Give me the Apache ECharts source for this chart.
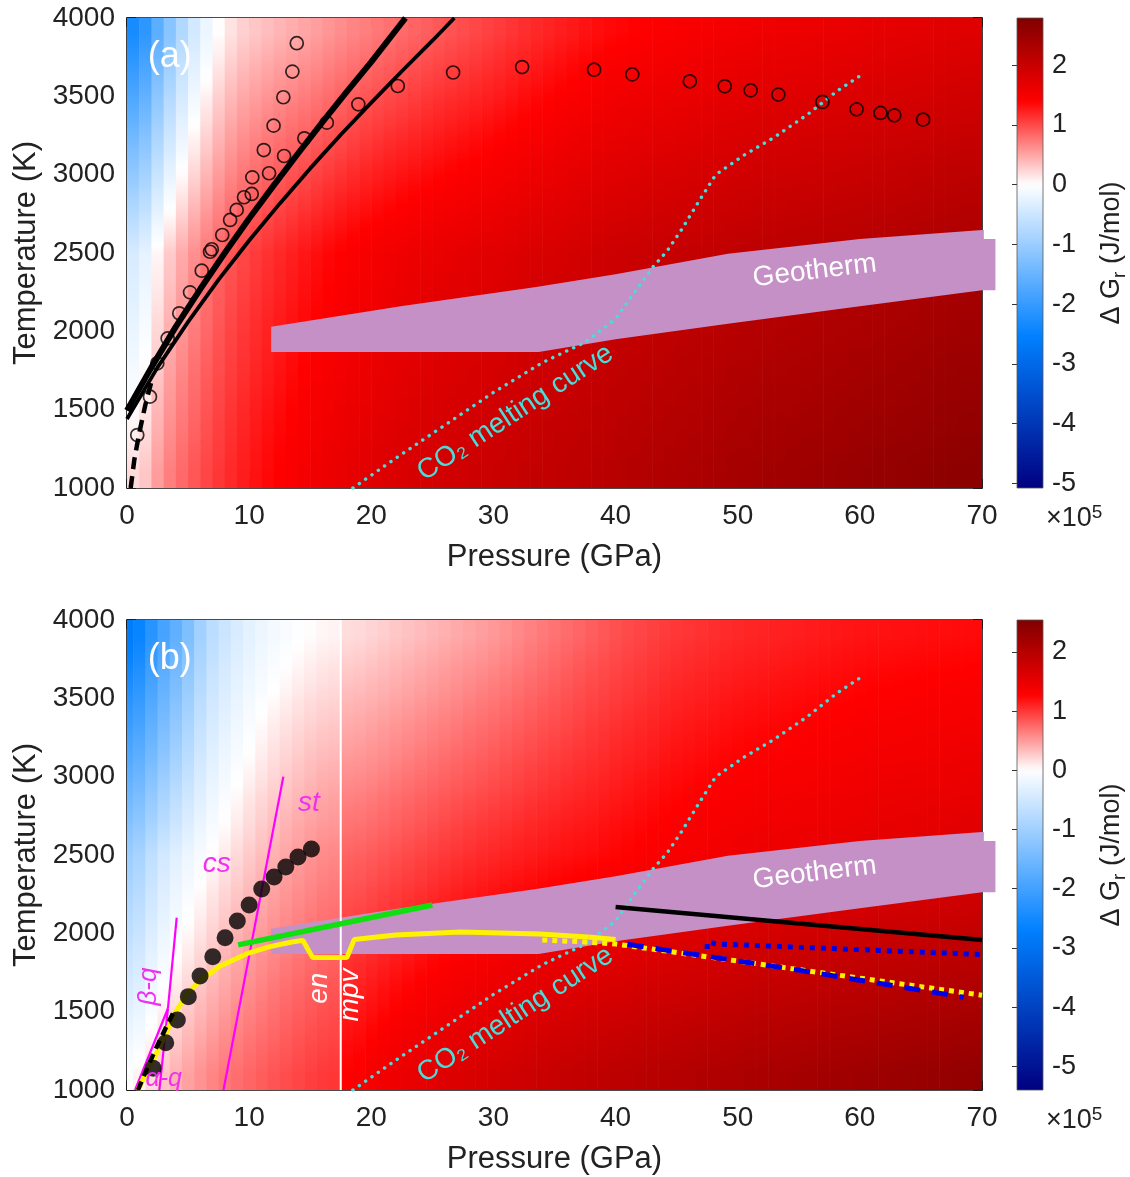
<!DOCTYPE html>
<html>
<head>
<meta charset="utf-8">
<script src="https://cdn.jsdelivr.net/npm/echarts@6/dist/echarts.min.js"></script>
<style>
html,body{margin:0;padding:0;background:#fff;}
#chart{width:1130px;height:1177px;}
</style>
</head>
<body>
<div id="chart"></div>
<script>
// ---------------- Reaction Gibbs energy fields, ΔGr (×10^5 J/mol) ----------------
// Rows run from low to high temperature (sample rows every 200 K).
const tCenters = [1100,1300,1500,1700,1900,2100,2300,2500,2700,2900,3100,3300,3500,3700,3900];

// panel (a): samples every 2 GPa
const pCentersA = [1,3,5,7,9,11,13,15,17,19,21,23,25,27,29,31,33,35,37,39,41,43,45,47,49,51,53,55,57,59,61,63,65,67,69];
const dGA = [
  [0.20,0.65,0.88,1.06,1.21,1.33,1.43,1.53,1.61,1.69,1.76,1.82,1.88,1.92,1.96,2.00,2.04,2.08,2.12,2.16,2.20,2.24,2.28,2.32,2.36,2.39,2.42,2.45,2.48,2.51,2.54,2.57,2.60,2.63,2.66],
  [0.10,0.58,0.83,1.02,1.18,1.30,1.40,1.50,1.58,1.66,1.73,1.79,1.84,1.88,1.92,1.96,2.01,2.05,2.09,2.13,2.17,2.21,2.24,2.28,2.32,2.35,2.38,2.41,2.43,2.46,2.49,2.52,2.55,2.58,2.61],
  [0.02,0.52,0.78,0.99,1.15,1.27,1.37,1.47,1.55,1.63,1.69,1.75,1.81,1.85,1.89,1.93,1.97,2.01,2.05,2.10,2.13,2.17,2.21,2.24,2.28,2.31,2.34,2.36,2.39,2.42,2.44,2.47,2.50,2.53,2.56],
  [-0.08,0.46,0.74,0.95,1.11,1.23,1.33,1.43,1.51,1.59,1.66,1.71,1.77,1.81,1.85,1.89,1.93,1.98,2.02,2.06,2.10,2.13,2.17,2.20,2.24,2.27,2.30,2.32,2.35,2.37,2.40,2.43,2.46,2.49,2.51],
  [-0.17,0.39,0.69,0.91,1.08,1.20,1.30,1.40,1.48,1.56,1.62,1.68,1.73,1.77,1.81,1.85,1.90,1.94,1.98,2.03,2.06,2.10,2.13,2.17,2.20,2.23,2.25,2.28,2.30,2.33,2.35,2.38,2.41,2.44,2.46],
  [-0.25,0.33,0.64,0.87,1.05,1.17,1.27,1.37,1.45,1.53,1.59,1.64,1.69,1.73,1.77,1.81,1.86,1.91,1.95,2.00,2.03,2.06,2.09,2.13,2.16,2.19,2.21,2.24,2.26,2.28,2.30,2.33,2.36,2.39,2.42],
  [-0.33,0.26,0.60,0.84,1.01,1.13,1.23,1.33,1.41,1.49,1.55,1.61,1.66,1.70,1.74,1.78,1.83,1.87,1.91,1.96,1.99,2.03,2.06,2.09,2.12,2.15,2.17,2.19,2.21,2.24,2.26,2.29,2.32,2.35,2.37],
  [-0.40,0.20,0.55,0.80,0.98,1.10,1.20,1.30,1.38,1.46,1.52,1.57,1.62,1.66,1.70,1.74,1.79,1.84,1.88,1.93,1.96,1.99,2.02,2.05,2.08,2.11,2.13,2.15,2.17,2.19,2.21,2.24,2.27,2.30,2.32],
  [-0.67,-0.03,0.39,0.68,0.87,0.99,1.09,1.19,1.27,1.35,1.41,1.46,1.52,1.56,1.60,1.65,1.70,1.75,1.79,1.85,1.88,1.91,1.94,1.97,2.00,2.03,2.05,2.07,2.09,2.11,2.13,2.16,2.19,2.22,2.24],
  [-0.95,-0.25,0.23,0.55,0.77,0.88,0.98,1.07,1.16,1.24,1.30,1.36,1.41,1.46,1.51,1.55,1.61,1.66,1.71,1.76,1.79,1.83,1.86,1.89,1.92,1.95,1.97,1.99,2.01,2.03,2.05,2.08,2.11,2.14,2.16],
  [-1.22,-0.48,0.07,0.43,0.66,0.78,0.87,0.96,1.04,1.13,1.20,1.25,1.31,1.36,1.41,1.46,1.52,1.58,1.62,1.68,1.71,1.75,1.78,1.81,1.84,1.87,1.89,1.91,1.93,1.95,1.97,2.00,2.03,2.06,2.08],
  [-1.49,-0.71,-0.09,0.31,0.55,0.67,0.76,0.85,0.93,1.02,1.09,1.15,1.21,1.26,1.31,1.37,1.43,1.49,1.54,1.59,1.63,1.66,1.69,1.73,1.76,1.79,1.81,1.83,1.85,1.87,1.89,1.92,1.94,1.97,1.99],
  [-1.77,-0.93,-0.25,0.19,0.45,0.56,0.65,0.73,0.82,0.91,0.98,1.04,1.11,1.16,1.21,1.27,1.34,1.40,1.45,1.51,1.55,1.58,1.61,1.65,1.68,1.71,1.73,1.75,1.77,1.79,1.81,1.84,1.86,1.89,1.91],
  [-2.04,-1.16,-0.41,0.06,0.34,0.45,0.54,0.62,0.71,0.80,0.87,0.94,1.00,1.06,1.12,1.18,1.25,1.31,1.37,1.43,1.46,1.50,1.53,1.57,1.60,1.63,1.65,1.67,1.69,1.71,1.73,1.76,1.78,1.81,1.83],
  [-2.31,-1.39,-0.57,-0.06,0.23,0.34,0.43,0.51,0.60,0.69,0.76,0.83,0.90,0.96,1.02,1.09,1.16,1.22,1.28,1.34,1.38,1.42,1.45,1.49,1.52,1.55,1.57,1.59,1.61,1.63,1.65,1.68,1.70,1.73,1.75]
];

// panel (b): samples every 2 GPa, either side of the en / mpv boundary at 17.5 GPa
const pCentersB = [0.5,2.5,4.5,6.5,8.5,10.5,12.5,14.5,16.5,18.5,20.5,22.5,24.5,26.5,28.5,30.5,32.5,34.5,36.5,38.5,40.5,42.5,44.5,46.5,48.5,50.5,52.5,54.5,56.5,58.5,60.5,62.5,64.5,66.5,68.5,70.5];
const enMpvBoundary = 17.5;
const dGB = [
  [0.00,0.24,0.43,0.58,0.70,0.79,0.87,0.94,1.00,1.28,1.38,1.46,1.54,1.61,1.67,1.72,1.77,1.82,1.87,1.91,1.95,1.98,2.01,2.04,2.07,2.10,2.13,2.16,2.19,2.22,2.24,2.27,2.30,2.32,2.35,2.37],
  [-0.15,0.13,0.33,0.49,0.62,0.72,0.80,0.88,0.94,1.21,1.30,1.38,1.45,1.52,1.58,1.63,1.68,1.73,1.78,1.81,1.85,1.88,1.92,1.95,1.98,2.01,2.03,2.06,2.09,2.12,2.14,2.17,2.19,2.21,2.24,2.26],
  [-0.30,0.02,0.24,0.40,0.54,0.65,0.74,0.82,0.89,1.14,1.22,1.30,1.37,1.43,1.49,1.54,1.59,1.64,1.68,1.72,1.75,1.79,1.82,1.85,1.88,1.91,1.94,1.96,1.99,2.02,2.04,2.06,2.09,2.11,2.13,2.15],
  [-0.45,-0.10,0.14,0.32,0.46,0.58,0.68,0.76,0.83,1.07,1.15,1.22,1.29,1.35,1.40,1.45,1.50,1.54,1.58,1.62,1.65,1.69,1.72,1.75,1.78,1.81,1.84,1.86,1.89,1.92,1.94,1.96,1.98,2.00,2.03,2.04],
  [-0.60,-0.21,0.04,0.23,0.39,0.51,0.61,0.70,0.77,1.00,1.07,1.13,1.20,1.26,1.31,1.36,1.41,1.45,1.49,1.52,1.56,1.59,1.63,1.66,1.69,1.72,1.74,1.77,1.79,1.81,1.83,1.86,1.88,1.90,1.92,1.93],
  [-0.75,-0.32,-0.06,0.14,0.31,0.44,0.55,0.64,0.72,0.92,0.99,1.05,1.12,1.17,1.23,1.27,1.31,1.36,1.39,1.42,1.46,1.49,1.53,1.56,1.59,1.62,1.64,1.67,1.69,1.71,1.73,1.76,1.77,1.79,1.81,1.83],
  [-0.90,-0.44,-0.15,0.06,0.23,0.37,0.48,0.58,0.66,0.85,0.91,0.97,1.03,1.09,1.14,1.18,1.22,1.26,1.30,1.33,1.36,1.40,1.44,1.47,1.50,1.53,1.55,1.57,1.59,1.61,1.63,1.65,1.67,1.69,1.71,1.72],
  [-1.05,-0.55,-0.25,-0.03,0.15,0.30,0.42,0.52,0.60,0.78,0.83,0.89,0.95,1.00,1.05,1.09,1.13,1.17,1.20,1.23,1.26,1.30,1.34,1.37,1.40,1.43,1.45,1.47,1.49,1.51,1.53,1.55,1.56,1.58,1.60,1.61],
  [-1.30,-0.82,-0.45,-0.14,0.06,0.22,0.35,0.45,0.52,0.69,0.74,0.80,0.86,0.92,0.97,1.01,1.06,1.10,1.14,1.17,1.21,1.25,1.29,1.32,1.35,1.38,1.40,1.42,1.44,1.46,1.48,1.50,1.51,1.53,1.55,1.56],
  [-1.55,-1.05,-0.63,-0.25,-0.02,0.15,0.27,0.37,0.45,0.61,0.66,0.72,0.78,0.83,0.88,0.93,0.98,1.03,1.07,1.11,1.15,1.20,1.24,1.27,1.30,1.33,1.35,1.37,1.39,1.41,1.43,1.45,1.46,1.47,1.49,1.50],
  [-1.80,-1.30,-0.82,-0.36,-0.11,0.07,0.20,0.30,0.37,0.52,0.57,0.63,0.69,0.75,0.80,0.85,0.91,0.96,1.01,1.05,1.10,1.14,1.19,1.22,1.25,1.28,1.30,1.32,1.34,1.36,1.38,1.39,1.40,1.42,1.44,1.45],
  [-2.05,-1.50,-1.00,-0.47,-0.20,0.00,0.13,0.22,0.29,0.43,0.49,0.55,0.61,0.66,0.72,0.77,0.83,0.89,0.94,1.00,1.05,1.09,1.14,1.17,1.20,1.23,1.25,1.27,1.29,1.31,1.33,1.34,1.35,1.37,1.38,1.39],
  [-2.30,-1.70,-1.18,-0.58,-0.28,-0.08,0.05,0.15,0.21,0.35,0.40,0.46,0.52,0.58,0.64,0.69,0.76,0.82,0.88,0.94,0.99,1.04,1.09,1.12,1.15,1.18,1.20,1.22,1.24,1.26,1.28,1.29,1.30,1.31,1.33,1.34],
  [-2.55,-1.90,-1.36,-0.69,-0.37,-0.16,-0.02,0.07,0.14,0.26,0.32,0.38,0.44,0.50,0.55,0.61,0.68,0.75,0.82,0.88,0.94,0.99,1.04,1.07,1.10,1.13,1.15,1.17,1.19,1.21,1.23,1.24,1.25,1.26,1.27,1.28],
  [-2.80,-2.10,-1.55,-0.80,-0.46,-0.23,-0.09,0.00,0.06,0.17,0.23,0.29,0.35,0.41,0.47,0.53,0.61,0.68,0.75,0.82,0.89,0.94,0.99,1.02,1.05,1.08,1.10,1.12,1.14,1.16,1.18,1.19,1.20,1.21,1.22,1.23]
];

// colour limits of the two colour bars and their tick values
const climA = [-5.08, 2.79];
const climB = [-5.40, 2.54];
const cbarTicks = [-5,-4,-3,-2,-1,0,1,2];

// ---------------- panel (a) curves and points ----------------
const aLineThickP = [0,2,4,6,8,10,12,14,16,18,20,22.8];
const aLineThickT = [1495,1770,2030,2270,2500,2720,2930,3135,3335,3530,3720,4000];
const aLineThinP  = [0,2.5,5,7.5,10,12.5,15,17.5,20,22.5,25,26.8];
const aLineThinT  = [1440,1770,2060,2330,2580,2815,3040,3255,3460,3660,3855,4000];
const aDashP = [0.3,0.6,1.0,1.5,2.1];
const aDashT = [1000,1180,1350,1530,1710];
const aCircP = [0.84,1.88,2.48,3.33,4.28,5.16,6.12,6.8,6.94,7.8,8.44,8.98,9.58,10.21,10.26,11.63,11.2,12.0,12.86,12.8,13.54,13.9,14.52,16.36,18.94,22.17,26.7,32.35,38.24,41.37,46.08,48.94,51.06,53.33,56.94,59.73,61.69,62.82,65.18];
const aCircT = [1338,1583,1796,1955,2115,2249,2387,2508,2524,2615,2711,2775,2856,2877,2983,3009,3157,3313,3119,3494,3658,3839,3232,3332,3449,3566,3652,3687,3670,3640,3596,3564,3538,3511,3464,3417,3394,3379,3351];

// ---------------- shared: CO2 melting curve and geotherm ----------------
const co2P = [18.5,22,26,30,34,37.5,40,41.5,43.1,44.2,45.4,46.9,48.2,50.5,52.9,55.7,58.1,60];
const co2T = [1000,1190,1400,1610,1800,1930,2080,2245,2415,2511,2649,2840,3000,3124,3234,3383,3532,3630];
const geoP = [11.8,22.4,33.5,40,49.2,60,70,70.15,70.15,71.1,71.1,70,60,49.2,40,33.7,11.8];
const geoT = [2030,2160,2283,2365,2496,2590,2647,2647,2590,2590,2262,2262,2160,2049,1950,1868,1868];

// ---------------- panel (b) curves and points ----------------
const bDotP = [2.14,3.17,4.12,5.02,5.98,7.02,8.03,9.03,10.0,11.03,12.04,13.0,14.0,15.1];
const bDotT = [1139,1302,1447,1596,1728,1851,1972,2079,2181,2283,2360,2423,2487,2538];
const bYellowP = [0.9,1.5,2.2,3.0,4.0,5.0,6.0,7.6,9.8,11.7,13.5,14.4,15.2,18.0,18.6,22,27.3,33.8,38,40];
const bYellowT = [1000,1100,1200,1330,1500,1620,1700,1790,1870,1915,1945,1955,1845,1845,1960,1990,2008,1995,1975,1960];
const bYellowDotP = [34,37,40,50,60,70];
const bYellowDotT = [1957,1947,1932,1823,1714,1605];
const bBlueDashP = [41,55,68.5];
const bBlueDashT = [1930,1765,1592];
const bBlueDotP = [47.5,47.5,48.3,70];
const bBlueDotT = [1900,1945,1932,1865];
const bBlackP = [40,70];
const bBlackT = [2168,1957];
const bGreenP = [9.1,25];
const bGreenT = [1926,2181];
const bDashP = [0.9,1.6,2.4,3.2,3.9];
const bDashT = [1000,1130,1270,1400,1510];
const bMpvP = [17.5,17.5];
const bMpvT = [1000,4000];
const qAlphaBetaP = [0.66,3.35];
const qAlphaBetaT = [1000,1520];
const qAlphaCsP = [2.65,3.35];
const qAlphaCsT = [1000,1520];
const qBetaCsP = [3.35,4.07];
const qBetaCsT = [1520,2100];
const csStP = [7.9,12.8];
const csStT = [1000,3000];

// ---------------- drawing ----------------
const FONT = '"Liberation Sans", Arial, Helvetica, sans-serif';
const TXT = '#222';
const chart = echarts.init(document.getElementById('chart'));

// diverging blue-white-red map with white at zero
function cmap(v, lim) {
  const mix = (a, b, t) => a.map((x, i) => Math.round(x + (b[i] - x) * t));
  let c;
  if (v >= 0) {
    const t = Math.min(v / lim[1], 1);
    c = t < 0.5 ? mix([255,255,255],[255,0,0],t/0.5) : mix([255,0,0],[128,0,0],(t-0.5)/0.5);
  } else {
    const t = Math.min(v / lim[0], 1);
    c = t < 0.5 ? mix([255,255,255],[0,128,255],t/0.5) : mix([0,128,255],[0,0,128],(t-0.5)/0.5);
  }
  return 'rgb(' + c.join(',') + ')';
}
const zip = (P, T) => P.map((p, i) => [p, T[i]]);

// Shaded field: 1 GPa wide strips, each shaded vertically between sample rows.
// Items are [pLeft, pRight, tLow, tHigh, vLow, vHigh].
function shadeData(pc, rows, stripCenters, brk) {
  const last = pc.length - 1;
  const at = (j, P) => {
    const row = rows[j];
    if (P <= pc[0]) return row[0];
    if (P >= pc[last]) return row[last];
    let i = 0;
    while (i < last - 1 && pc[i + 1] < P) i++;
    const p0 = pc[i], p1 = pc[i + 1];
    if (brk !== null && p0 < brk && brk < p1) return P < brk ? row[i] : row[i + 1];
    return row[i] + (row[i + 1] - row[i]) * (P - p0) / (p1 - p0);
  };
  const n = tCenters.length, d = [];
  stripCenters.forEach(c => {
    const l = c - 0.5, r = c + 0.5;
    d.push([l, r, 1000, tCenters[0], at(0, c), at(0, c)]);
    for (let j = 0; j < n - 1; j++) d.push([l, r, tCenters[j], tCenters[j + 1], at(j, c), at(j + 1, c)]);
    d.push([l, r, tCenters[n - 1], 4000, at(n - 1, c), at(n - 1, c)]);
  });
  return d;
}
function shadeRender(lim) {
  return function (params, api) {
    const a = api.coord([api.value(0), api.value(3)]);
    const b = api.coord([api.value(1), api.value(2)]);
    const v0 = api.value(4), v1 = api.value(5);
    const cs = params.coordSys;
    const r = echarts.graphic.clipRectByRect(
      {x: a[0], y: a[1] - 0.4, width: b[0] - a[0] + 0.6, height: b[1] - a[1] + 0.8},
      {x: cs.x, y: cs.y, width: cs.width, height: cs.height});
    if (!r) return;
    const stops = [];
    for (let k = 0; k <= 4; k++) stops.push({offset: k / 4, color: cmap(v1 + (v0 - v1) * k / 4, lim)});
    return {type: 'rect', shape: r, style: {fill: new echarts.graphic.LinearGradient(0, 0, 0, 1, stops)}};
  };
}
function geoRender(params, api) {
  const pts = geoP.map((p, i) => api.coord([p, geoT[i]]));
  return {type: 'polygon', shape: {points: pts}, style: {fill: '#C590C6'}};
}
function cbarRender(lim) {
  return function (params, api) {
    const top = api.coord([0, lim[1]]), bot = api.coord([1, lim[0]]);
    const stops = [];
    const n = 80;
    for (let k = 0; k <= n; k++) stops.push({offset: k / n, color: cmap(lim[1] - (lim[1] - lim[0]) * k / n, lim)});
    return {type: 'rect', shape: {x: top[0], y: top[1], width: bot[0] - top[0], height: bot[1] - top[1]},
      style: {fill: new echarts.graphic.LinearGradient(0, 0, 0, 1, stops), stroke: '#555', lineWidth: 0.8}};
  };
}

const grids = [
  {left:127, top:18, width:855, height:470},
  {left:127, top:620, width:855, height:470},
  {left:1017, top:18, width:31, height:470},
  {left:1017, top:620, width:31, height:470}
];
const axLine = {show:true, onZero:false, lineStyle:{color:'#111', width:1.6}};
const axTick = {show:true, inside:true, length:9, lineStyle:{color:'#111', width:1.5}};
const plain = v => String(v);
const xAxes = [], yAxes = [];
[0,1].forEach(g => {
  xAxes.push({gridIndex:g, type:'value', min:0, max:70, interval:10, position:'bottom',
    axisLine:axLine, axisTick:axTick, splitLine:{show:false},
    axisLabel:{fontSize:28, color:TXT, margin:14, fontFamily:FONT, formatter:plain},
    name:'Pressure (GPa)', nameLocation:'middle', nameGap:54,
    nameTextStyle:{fontSize:31, color:TXT, fontFamily:FONT}});
  xAxes.push({gridIndex:g, type:'value', min:0, max:70, interval:10, position:'top',
    axisLine:axLine, axisTick:axTick, splitLine:{show:false}, axisLabel:{show:false}});
  yAxes.push({gridIndex:g, type:'value', min:1000, max:4000, interval:500, position:'left',
    axisLine:axLine, axisTick:axTick, splitLine:{show:false},
    axisLabel:{fontSize:28, color:TXT, margin:12, fontFamily:FONT, formatter:plain},
    name:'Temperature (K)', nameLocation:'middle', nameGap:82, nameRotate:90,
    nameTextStyle:{fontSize:31, color:TXT, fontFamily:FONT}});
  yAxes.push({gridIndex:g, type:'value', min:1000, max:4000, interval:500, position:'right',
    axisLine:axLine, axisTick:axTick, splitLine:{show:false}, axisLabel:{show:false}});
});
[[2, climA], [3, climB]].forEach(([g, lim]) => {
  xAxes.push({gridIndex:g, type:'value', min:0, max:1, show:false});
  yAxes.push({gridIndex:g, type:'value', min:lim[0], max:lim[1], position:'right',
    axisLine:{show:false}, splitLine:{show:false},
    axisTick:{show:true, inside:true, length:5, customValues:cbarTicks, lineStyle:{color:'#333', width:1}},
    axisLabel:{fontSize:27, color:TXT, margin:9, fontFamily:FONT, customValues:cbarTicks},
    name:'{n|Δ G}{s|r}{n| (J/mol)}', nameLocation:'middle', nameGap:52, nameRotate:90,
    nameTextStyle:{rich:{
      n:{fontSize:27, color:TXT, fontFamily:FONT, lineHeight:34},
      s:{fontSize:19, color:TXT, fontFamily:FONT, lineHeight:14, verticalAlign:'bottom'}}}});
});

const series = [];
function line(g, P, T, style, z) {
  series.push({type:'line', xAxisIndex:g*2, yAxisIndex:g*2, data:zip(P, T), symbol:'none',
    showSymbol:false, silent:true, clip:true, z:z || 4, lineStyle:style, animation:false});
}
function labels(g, items) {
  series.push({type:'scatter', xAxisIndex:g*2, yAxisIndex:g*2, symbolSize:0, silent:true, z:8,
    itemStyle:{color:'rgba(0,0,0,0)'}, animation:false,
    data: items.map(it => ({value:[it.p, it.t], label:Object.assign({show:true, position:'inside',
      fontFamily:FONT, opacity:1, formatter:it.text}, it.style)}))});
}

// shaded ΔGr fields
const stripsA = [], stripsB = [];
for (let c = 0.5; c < 70; c += 1) stripsA.push(c);
for (let c = 0; c <= 70; c += 1) stripsB.push(c);
[[0, pCentersA, dGA, climA, stripsA, null], [1, pCentersB, dGB, climB, stripsB, enMpvBoundary]].forEach(([g, pc, rows, lim, strips, brk]) => {
  series.push({type:'custom', xAxisIndex:g*2, yAxisIndex:g*2, renderItem:shadeRender(lim),
    data:shadeData(pc, rows, strips, brk), encode:{x:[0,1], y:[2,3]}, progressive:0,
    silent:true, z:1, animation:false});
});
// geotherm bands
[0,1].forEach(g => series.push({type:'custom', xAxisIndex:g*2, yAxisIndex:g*2, renderItem:geoRender,
  data:[[35,2300]], silent:true, z:2, animation:false}));
// colour bars
series.push({type:'custom', xAxisIndex:4, yAxisIndex:4, renderItem:cbarRender(climA), data:[[0.5,0]], silent:true, animation:false});
series.push({type:'custom', xAxisIndex:5, yAxisIndex:5, renderItem:cbarRender(climB), data:[[0.5,0]], silent:true, animation:false});

// CO2 melting curve in both panels
const co2Style = {color:'#45DEDB', width:3.4, type:[0.1, 7.6], cap:'round'};
line(0, co2P, co2T, co2Style, 3);
line(1, co2P, co2T, co2Style, 3);

// panel (a)
line(0, aLineThickP, aLineThickT, {color:'#000', width:6});
line(0, aLineThinP, aLineThinT, {color:'#000', width:3.8});
line(0, aDashP, aDashT, {color:'#000', width:4.5, type:[12,7]});
series.push({type:'scatter', xAxisIndex:0, yAxisIndex:0, data:zip(aCircP, aCircT), symbol:'circle', symbolSize:13,
  silent:true, z:5, animation:false, itemStyle:{color:'rgba(0,0,0,0)', borderColor:'#000', borderWidth:1.7}});

// panel (b)
line(1, bMpvP, bMpvT, {color:'#fff', width:2}, 3);
line(1, qAlphaBetaP, qAlphaBetaT, {color:'#FF00FF', width:2.2});
line(1, qAlphaCsP, qAlphaCsT, {color:'#FF00FF', width:2.2});
line(1, qBetaCsP, qBetaCsT, {color:'#FF00FF', width:2.2});
line(1, csStP, csStT, {color:'#FF00FF', width:2.2});
line(1, bGreenP, bGreenT, {color:'#10E010', width:5.5});
line(1, bBlackP, bBlackT, {color:'#000', width:4.5});
line(1, bYellowDotP, bYellowDotT, {color:'#FFF200', width:5, type:[5,5]});
line(1, bBlueDashP, bBlueDashT, {color:'#0000E6', width:5, type:[16,12]}, 5);
line(1, bBlueDotP, bBlueDotT, {color:'#0000E6', width:5, type:[5,6]});
line(1, bYellowP, bYellowT, {color:'#FFF200', width:5}, 5);
line(1, bDashP, bDashT, {color:'#000', width:4.5, type:[9,6]}, 6);
series.push({type:'scatter', xAxisIndex:2, yAxisIndex:2, data:zip(bDotP, bDotT), symbol:'circle', symbolSize:17,
  silent:true, z:6, animation:false, itemStyle:{color:'#000'}});

// text annotations
const co2Label = {p:31.8, t:1480, text:'CO₂ melting curve', style:{color:'#45DEDB', fontSize:28, rotate:33}};
const geoLabel = {p:56.3, t:2385, text:'Geotherm', style:{color:'#fff', fontSize:28, rotate:7}};
labels(0, [
  {p:3.5, t:3750, text:'(a)', style:{color:'#fff', fontSize:36}},
  co2Label, geoLabel
]);
const mg = '#F030F0';
labels(1, [
  {p:3.5, t:3750, text:'(b)', style:{color:'#fff', fontSize:36}},
  co2Label, geoLabel,
  {p:7.35, t:2440, text:'cs', style:{color:mg, fontSize:28, fontStyle:'italic'}},
  {p:14.9, t:2830, text:'st', style:{color:mg, fontSize:28, fontStyle:'italic'}},
  {p:1.8, t:1660, text:'β-q', style:{color:mg, fontSize:26, fontStyle:'italic', rotate:90}},
  {p:3.0, t:1072, text:'α-q', style:{color:mg, fontSize:25, fontStyle:'italic'}},
  {p:15.7, t:1650, text:'en', style:{color:'#fff', fontSize:28, fontStyle:'italic', rotate:90}},
  {p:18.3, t:1606, text:'mpv', style:{color:'#fff', fontSize:28, fontStyle:'italic', rotate:90}}
]);

const superText = {text:'{a|×10}{b|5}', rich:{
  a:{fontSize:27, fill:TXT, fontFamily:FONT, lineHeight:32},
  b:{fontSize:19, fill:TXT, fontFamily:FONT, lineHeight:14, verticalAlign:'top'}}};
const option = {
  backgroundColor:'#fff',
  animation:false,
  grid:grids,
  xAxis:xAxes,
  yAxis:yAxes,
  graphic:[
    {type:'text', left:1046, top:503, style:superText},
    {type:'text', left:1046, top:1105, style:superText}
  ],
  series:series
};
chart.setOption(option);
</script>
</body>
</html>
